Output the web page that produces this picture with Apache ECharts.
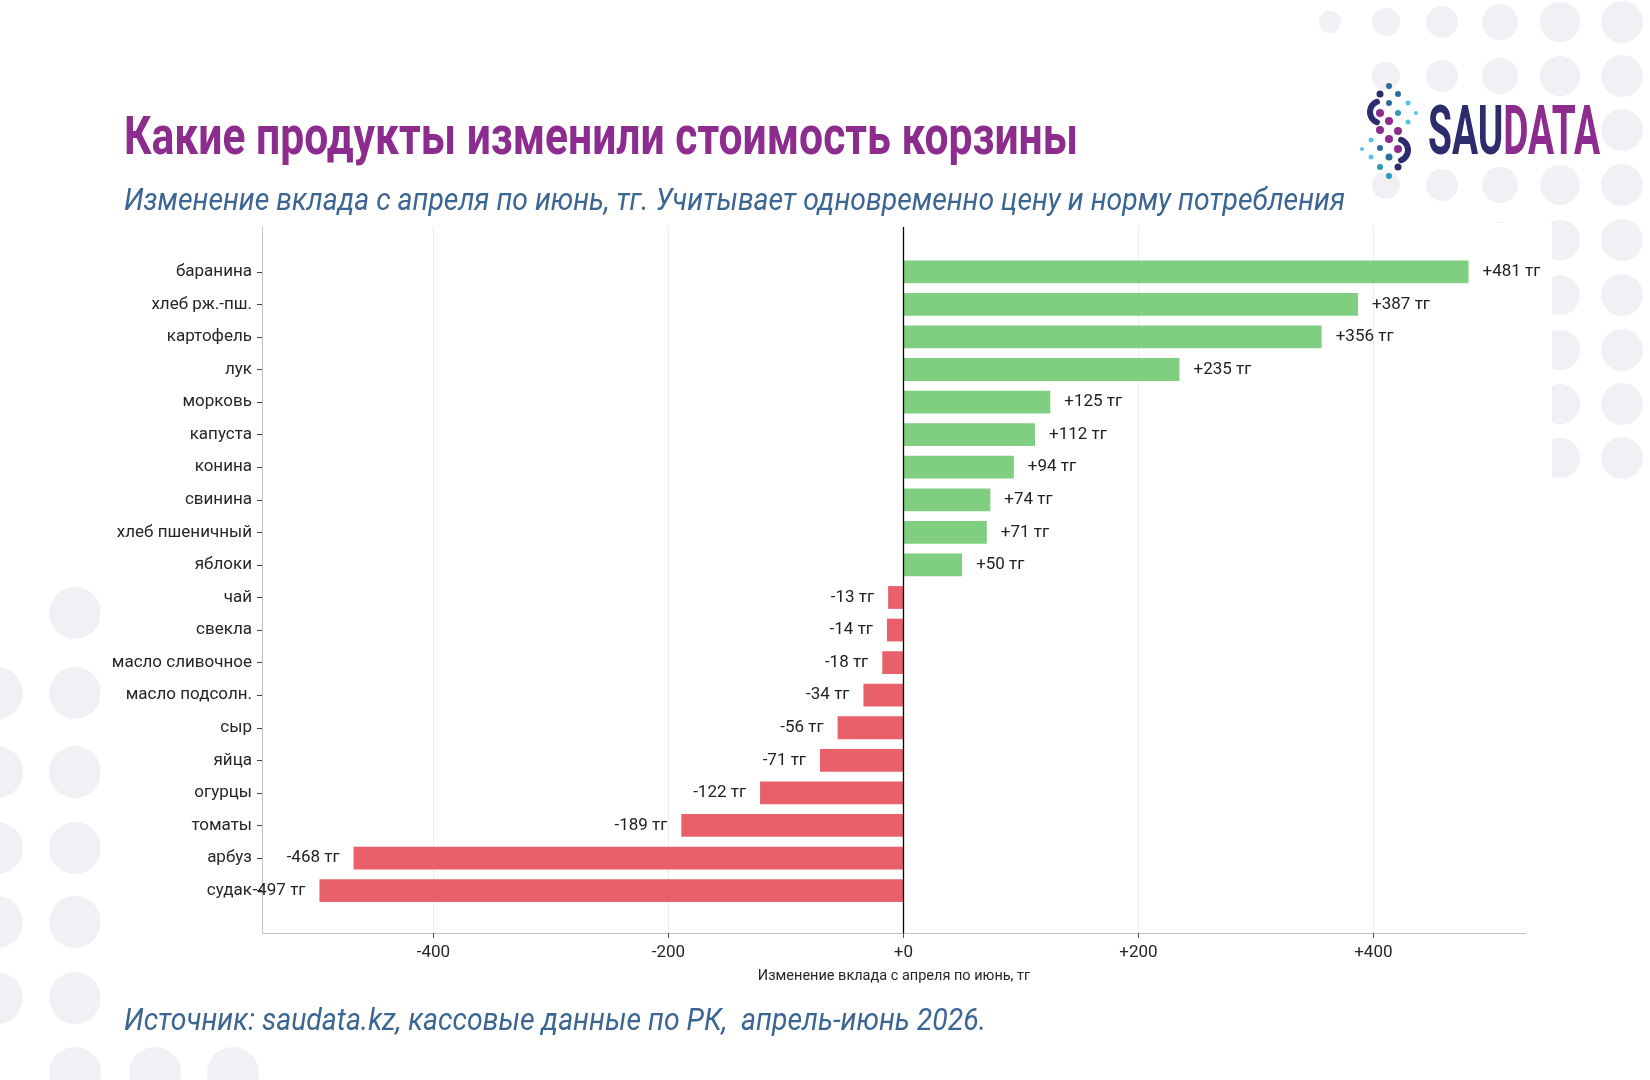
<!DOCTYPE html>
<html>
<head>
<meta charset="utf-8">
<script src="https://cdn.jsdelivr.net/npm/echarts@6/dist/echarts.min.js"></script>
<style>
  html, body { margin: 0; padding: 0; background: #fff; }
  #main { width: 1650px; height: 1080px; }
</style>
</head>
<body>
<div id="main"></div>
<script type="text/javascript">
// data, top to bottom as drawn
var products = ['баранина', 'хлеб рж.-пш.', 'картофель', 'лук', 'морковь', 'капуста', 'конина',
    'свинина', 'хлеб пшеничный', 'яблоки', 'чай', 'свекла', 'масло сливочное', 'масло подсолн.',
    'сыр', 'яйца', 'огурцы', 'томаты', 'арбуз', 'судак'];
var deltas = [481, 387, 356, 235, 125, 112, 94, 74, 71, 50, -13, -14, -18, -34, -56, -71, -122, -189, -468, -497];
var unit = ' тг';

var titleText = 'Какие продукты изменили стоимость корзины';
var subtitleText = 'Изменение вклада с апреля по июнь, тг. Учитывает одновременно цену и норму потребления';
var sourceText = 'Источник: saudata.kz, кассовые данные по РК,  апрель-июнь 2026.';
var axisName = 'Изменение вклада с апреля по июнь, тг';

var GREEN = '#80cf80', RED = '#e9606b';
var PURPLE = '#8c2c8e', NAVY = '#2c2b6c', BLUE_TXT = '#3b6592';

// axis range with 5% padding like the original
var xMin = -545.9, xMax = 529.9;

function signed(v) {
    return v > 0 ? '+' + v : (v === 0 ? '+0' : String(v));
}

// squeeze text horizontally to a target width (condensed fonts are not available)
var ctx = document.createElement('canvas').getContext('2d');
function squeeze(text, font, target) {
    ctx.font = font;
    return target / ctx.measureText(text).width;
}

var barData = deltas.map(function (v) {
    return {
        value: v,
        itemStyle: { color: v >= 0 ? GREEN : RED },
        label: { position: v >= 0 ? 'right' : 'left' }
    };
});

// decoration: background dots
var gfx = [];
var rightCols = [[1330, 11], [1386, 14], [1442, 16], [1500, 18], [1560, 20], [1622, 21]];
var rightRows = [22, 76, 130, 185, 240, 295, 350, 404, 458];
rightRows.forEach(function (y, r) {
    rightCols.forEach(function (c, i) {
        if (r > 0 && i === 0) return;
        if (r > 4 && i < 3) return;
        gfx.push({ type: 'circle', z: -20, silent: true, shape: { cx: c[0], cy: y, r: c[1] }, style: { fill: '#f1f1f5' } });
    });
});
[[-3, 693], [-3, 772], [-3, 848], [-3, 922], [-3, 998],
 [75, 613], [75, 693], [75, 772], [75, 848], [75, 922], [75, 998], [75, 1073],
 [155, 1073], [233, 1073]].forEach(function (p) {
    gfx.push({ type: 'circle', z: -20, silent: true, shape: { cx: p[0], cy: p[1], r: 26 }, style: { fill: '#f1f1f5' } });
});
// white plot patch and logo box
gfx.push({ type: 'rect', z: -15, silent: true, shape: { x: 100, y: 223, width: 1452, height: 800 }, style: { fill: '#fff' } });
gfx.push({ type: 'rect', z: -15, silent: true, shape: { x: 1352, y: 97, width: 230, height: 68 }, style: { fill: '#fff' } });

// logo icon
var LB = '#2f6b9a', LT = '#2b9bbd', LC = '#55c6e0';
[[1389, 86, 3, LB], [1380, 94, 3.5, NAVY], [1398, 94, 3, LB], [1389, 103, 3, LB], [1408, 103, 2.5, LC],
 [1416, 113, 2, LC], [1380, 113, 4, PURPLE], [1398, 113, 3, LT], [1389, 121, 4, PURPLE], [1408, 122, 2.5, LC],
 [1380, 130, 4, PURPLE], [1398, 131, 4, PURPLE], [1389, 139, 4, PURPLE], [1371, 140, 2.5, LC], [1380, 148, 3, LB],
 [1398, 149, 4, PURPLE], [1362, 149, 2, LC], [1371, 157, 2.5, LC], [1389, 157, 3.5, LB], [1380, 167, 3, LT],
 [1398, 167, 3.5, NAVY], [1389, 176, 3, LT]].forEach(function (d) {
    gfx.push({ type: 'circle', z: 10, silent: true, shape: { cx: d[0], cy: d[1], r: d[2] }, style: { fill: d[3] } });
});
gfx.push({ type: 'arc', z: 10, silent: true, shape: { cx: 1381, cy: 112, r: 11, startAngle: Math.PI * 0.62, endAngle: Math.PI * 1.38, clockwise: true },
    style: { stroke: NAVY, lineWidth: 6, lineCap: 'round', fill: null } });
gfx.push({ type: 'arc', z: 10, silent: true, shape: { cx: 1397, cy: 150, r: 11, startAngle: -Math.PI * 0.38, endAngle: Math.PI * 0.38, clockwise: true },
    style: { stroke: NAVY, lineWidth: 6, lineCap: 'round', fill: null } });

// logo word (y is the top of the text box)
var logoFont = 'bold 68px Roboto';
var logoScale = squeeze('SAUDATA', logoFont, 172);
gfx.push({
    type: 'text', z: 10, x: 1428, y: 103, scaleX: logoScale, originX: 0,
    style: {
        text: '{a|SAU}{b|DATA}', font: logoFont,
        rich: { a: { fill: NAVY, font: logoFont, color: NAVY }, b: { fill: PURPLE, font: logoFont, color: PURPLE } }
    }
});

// titles
var titleFont = 'bold 54px Roboto';
gfx.push({ type: 'text', z: 10, x: 124, y: 113, scaleX: squeeze(titleText, titleFont, 954),
    style: { text: titleText, font: titleFont, fill: PURPLE } });
var subFont = 'italic 32px Roboto';
gfx.push({ type: 'text', z: 10, x: 124, y: 186, scaleX: squeeze(subtitleText, subFont, 1221),
    style: { text: subtitleText, font: subFont, fill: BLUE_TXT } });
gfx.push({ type: 'text', z: 10, x: 124, y: 1006, scaleX: squeeze(sourceText, subFont, 862),
    style: { text: sourceText, font: subFont, fill: BLUE_TXT } });

var chart = echarts.init(document.getElementById('main'), null, { renderer: 'canvas' });
chart.setOption({
    backgroundColor: 'transparent',
    animation: false,
    textStyle: { fontFamily: 'Roboto' },
    graphic: { elements: gfx },
    grid: [
        // bars: 20 bands of 32.57px
        { left: 262, right: 124, top: 255.5, height: 651.4, containLabel: false },
        // frame (spines, grid lines, ticks) with matplotlib-like margins
        { left: 262, right: 124, top: 227, bottom: 147, containLabel: false }
    ],
    xAxis: [
        { gridIndex: 0, type: 'value', min: xMin, max: xMax, show: false },
        {
            gridIndex: 1, type: 'value', min: xMin, max: xMax, splitNumber: 5,
            minInterval: 200, maxInterval: 200,
            axisLine: { show: true, lineStyle: { color: '#c4c4c4', width: 1 } },
            axisTick: { show: true, length: 5, lineStyle: { color: '#555' } },
            axisLabel: { show: true, showMinLabel: false, showMaxLabel: false, fontSize: 17, color: '#262626', margin: 11, formatter: signed },
            splitLine: { show: true, showMinLine: false, showMaxLine: false, lineStyle: { color: '#ececec', width: 1 } },
            name: axisName, nameLocation: 'middle', nameGap: 36,
            nameTextStyle: { fontSize: 14.5, color: '#262626' }
        }
    ],
    yAxis: [
        {
            gridIndex: 0, type: 'category', data: products, inverse: true, position: 'left',
            axisLine: { show: false, onZero: false },
            axisTick: { show: true, alignWithLabel: true, length: 5, lineStyle: { color: '#444' } },
            axisLabel: { fontSize: 17, color: '#262626', margin: 10 },
            splitLine: { show: false }
        },
        {
            gridIndex: 1, type: 'value', min: 0, max: 1, position: 'left',
            axisLine: { show: true, onZero: false, lineStyle: { color: '#c4c4c4', width: 1 } },
            axisTick: { show: false }, axisLabel: { show: false }, splitLine: { show: false }
        }
    ],
    series: [
        {
            type: 'bar', xAxisIndex: 0, yAxisIndex: 0,
            data: barData,
            barCategoryGap: '30%',
            label: {
                show: true, distance: 14, fontSize: 17, color: '#222',
                formatter: function (p) { return signed(p.value) + unit; }
            },
            z: 3
        },
        {
            type: 'line', xAxisIndex: 1, yAxisIndex: 1, data: [],
            markLine: {
                silent: true, symbol: 'none', label: { show: false },
                lineStyle: { color: '#000', width: 1.3, type: 'solid' },
                data: [{ xAxis: 0 }]
            },
            z: 5
        }
    ]
});
</script>
</body>
</html>
